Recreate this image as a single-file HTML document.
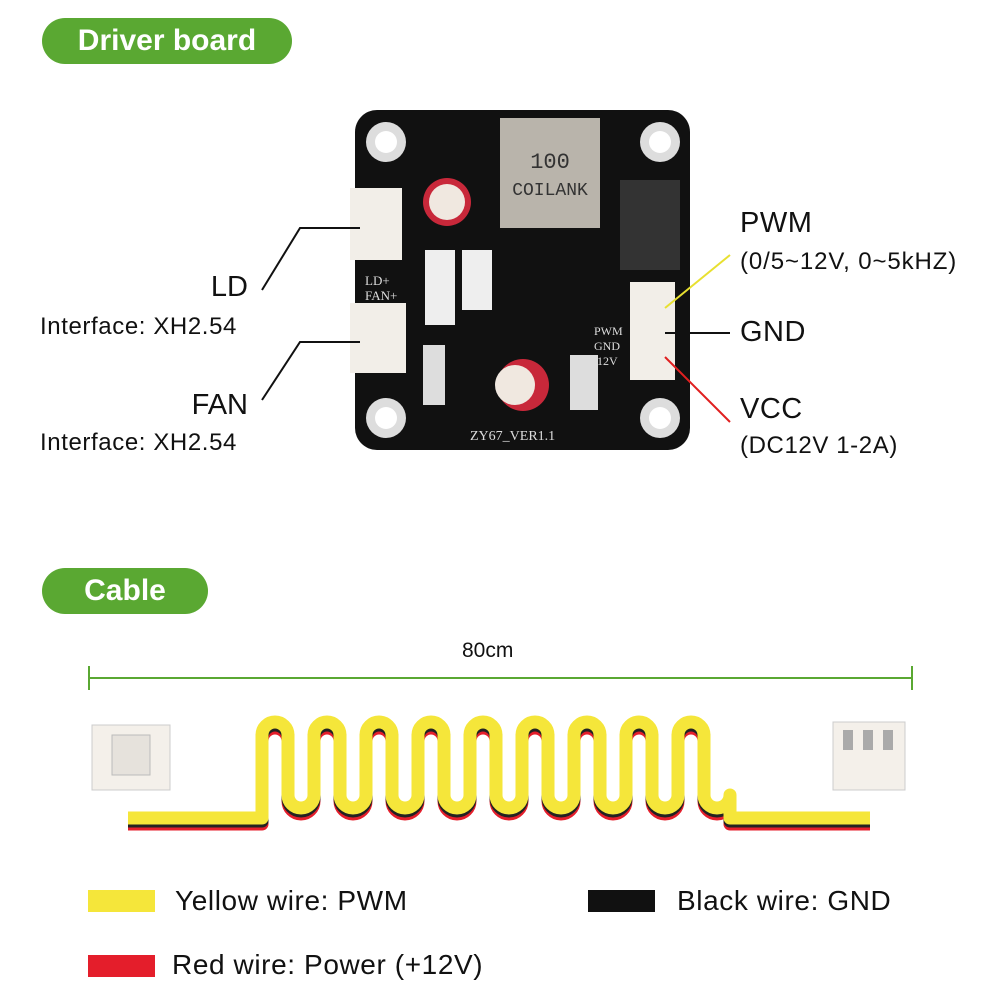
<!DOCTYPE html>
<html><head><meta charset="utf-8"><style>
body{margin:0;width:1000px;height:1000px;background:#fff;font-family:"Liberation Sans",Arial,sans-serif;position:relative;overflow:hidden}
.pill{position:absolute;background:#5aa832;color:#fff;font-weight:bold;font-size:30px;border-radius:24px;text-align:center;line-height:46px}
.t{position:absolute;color:#111;white-space:nowrap}
</style></head><body>
<div class="pill" style="left:42px;top:18px;width:250px;height:46px">Driver board</div>
<div class="pill" style="left:42px;top:568px;width:166px;height:46px">Cable</div>

<svg width="1000" height="1000" style="position:absolute;left:0;top:0">
 <rect x="355" y="110" width="335" height="340" rx="22" fill="#111"/>
 <circle cx="386" cy="142" r="20" fill="#ddd"/><circle cx="386" cy="142" r="11" fill="#fff"/>
 <circle cx="660" cy="142" r="20" fill="#ddd"/><circle cx="660" cy="142" r="11" fill="#fff"/>
 <circle cx="386" cy="418" r="20" fill="#ddd"/><circle cx="386" cy="418" r="11" fill="#fff"/>
 <circle cx="660" cy="418" r="20" fill="#ddd"/><circle cx="660" cy="418" r="11" fill="#fff"/>
 <rect x="500" y="118" width="100" height="110" fill="#b9b4ab"/>
 <text x="550" y="168" font-size="22" text-anchor="middle" fill="#333" font-family="Liberation Mono">100</text>
 <text x="550" y="195" font-size="18" text-anchor="middle" fill="#333" font-family="Liberation Mono">COILANK</text>
 <circle cx="447" cy="202" r="24" fill="#c8283a"/><circle cx="447" cy="202" r="18" fill="#f0e8e0"/>
 <circle cx="523" cy="385" r="26" fill="#c8283a"/><circle cx="515" cy="385" r="20" fill="#f0e8e0"/>
 <rect x="350" y="188" width="52" height="72" fill="#f2eee8"/>
 <rect x="350" y="303" width="56" height="70" fill="#f2eee8"/>
 <rect x="630" y="282" width="45" height="98" fill="#f2eee8"/>
 <rect x="620" y="180" width="60" height="90" fill="#333"/>
 <rect x="425" y="250" width="30" height="75" fill="#eee"/><rect x="462" y="250" width="30" height="60" fill="#eee"/>
 <rect x="423" y="345" width="22" height="60" fill="#ddd"/><rect x="570" y="355" width="28" height="55" fill="#ddd"/>
 <text x="470" y="440" font-size="14" fill="#ddd" font-family="Liberation Serif">ZY67_VER1.1</text>
 <text x="365" y="285" font-size="13" fill="#ddd" font-family="Liberation Serif">LD+</text>
 <text x="365" y="300" font-size="13" fill="#ddd" font-family="Liberation Serif">FAN+</text>
 <text x="594" y="335" font-size="12" fill="#ddd" font-family="Liberation Serif">PWM</text>
 <text x="594" y="350" font-size="12" fill="#ddd" font-family="Liberation Serif">GND</text>
 <text x="597" y="365" font-size="12" fill="#ddd" font-family="Liberation Serif">12V</text>
 <polyline points="262,290 300,228 360,228" fill="none" stroke="#111" stroke-width="2"/>
 <polyline points="262,400 300,342 360,342" fill="none" stroke="#111" stroke-width="2"/>
 <line x1="665" y1="308" x2="730" y2="255" stroke="#e8e030" stroke-width="2"/>
 <line x1="665" y1="333" x2="730" y2="333" stroke="#111" stroke-width="2"/>
 <line x1="665" y1="357" x2="730" y2="422" stroke="#e02020" stroke-width="2"/>
 <line x1="89" y1="678" x2="912" y2="678" stroke="#5aa832" stroke-width="2"/>
 <line x1="89" y1="666" x2="89" y2="690" stroke="#5aa832" stroke-width="2"/>
 <line x1="912" y1="666" x2="912" y2="690" stroke="#5aa832" stroke-width="2"/>
 <g id="cable" fill="none" stroke-linejoin="round"></g>
 <rect x="92" y="725" width="78" height="65" fill="#f4f0ea" stroke="#ccc"/>
 <rect x="112" y="735" width="38" height="40" fill="#e6e2dc" stroke="#bbb"/>
 <rect x="833" y="722" width="72" height="68" fill="#f4f0ea" stroke="#ccc"/>
 <rect x="843" y="730" width="10" height="20" fill="#aaa"/><rect x="863" y="730" width="10" height="20" fill="#aaa"/><rect x="883" y="730" width="10" height="20" fill="#aaa"/>
 <rect x="88" y="890" width="67" height="22" fill="#f5e63a"/>
 <rect x="588" y="890" width="67" height="22" fill="#111"/>
 <rect x="88" y="955" width="67" height="22" fill="#e41e2b"/>
</svg>
<script>
function path(off){var d="M128,"+(818+off)+" L262,"+(818+off);var x=262,top=722+off,bot=808+off,r=13;
for(var i=0;i<9;i++){d+=" L"+x+","+(top+r)+" A"+r+","+r+" 0 0 1 "+(x+2*r)+","+(top+r)+" L"+(x+2*r)+","+(bot-r)+" A"+r+","+r+" 0 0 0 "+(x+4*r)+","+(bot-r);x+=4*r;}
d+=" L"+x+","+(818+off)+" L870,"+(818+off);return d;}
var g=document.getElementById('cable');
[[6,'#e41e2b'],[3,'#222'],[0,'#f5e63a']].forEach(function(a){var p=document.createElementNS('http://www.w3.org/2000/svg','path');p.setAttribute('d',path(a[0]));p.setAttribute('stroke',a[1]);p.setAttribute('stroke-width','13');g.appendChild(p);});
</script>
<div class="t" style="right:752px;top:271px;font-size:29px">LD</div>
<div class="t" style="left:40px;top:313px;font-size:24px;letter-spacing:0.6px">Interface: XH2.54</div>
<div class="t" style="right:752px;top:389px;font-size:29px">FAN</div>
<div class="t" style="left:40px;top:429px;font-size:24px;letter-spacing:0.6px">Interface: XH2.54</div>
<div class="t" style="left:740px;top:207px;font-size:29px;letter-spacing:0.5px">PWM</div>
<div class="t" style="left:740px;top:248px;font-size:24px;letter-spacing:0.9px">(0/5~12V, 0~5kHZ)</div>
<div class="t" style="left:740px;top:316px;font-size:29px;letter-spacing:0.5px">GND</div>
<div class="t" style="left:740px;top:393px;font-size:29px;letter-spacing:0.5px">VCC</div>
<div class="t" style="left:740px;top:432px;font-size:24px;letter-spacing:0.6px">(DC12V 1-2A)</div>
<div class="t" style="left:462px;top:639px;font-size:21px">80cm</div>
<div class="t" style="left:175px;top:885px;font-size:28px;letter-spacing:0.6px">Yellow wire: PWM</div>
<div class="t" style="left:677px;top:885px;font-size:28px;letter-spacing:0.6px">Black wire: GND</div>
<div class="t" style="left:172px;top:949px;font-size:28px;letter-spacing:0.6px">Red wire: Power (+12V)</div>
</body></html>
